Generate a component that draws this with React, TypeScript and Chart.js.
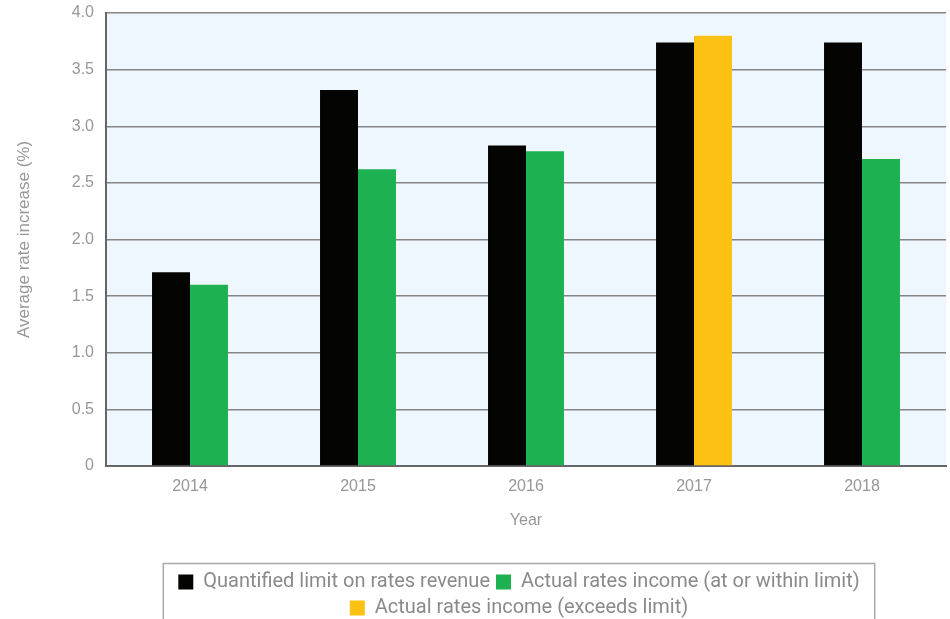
import React, { useEffect, useRef } from "react";
import { Chart, registerables } from "chart.js";

Chart.register(...registerables);

const years = ["2014", "2015", "2016", "2017", "2018"];
const quantifiedLimit = [1.71, 3.32, 2.83, 3.74, 3.74];
const actualWithin = [1.6, 2.62, 2.78, null, 2.71];
const actualExceeds = [null, null, null, 3.8, null];
const yTickLabels = ["0", "0.5", "1.0", "1.5", "2.0", "2.5", "3.0", "3.5", "4.0"];

const seriesNames = [
  "Quantified limit on rates revenue",
  "Actual rates income (at or within limit)",
  "Actual rates income (exceeds limit)",
];

const GREY = "#979797";
const FONT = "'Liberation Sans', Arial, sans-serif";
const LEGEND_SHIFT = -7;

const bgPlugin = {
  id: "plotBg",
  beforeDraw(chart: any) {
    const { ctx, chartArea } = chart;
    ctx.save();
    ctx.fillStyle = "#eff7fe";
    ctx.fillRect(chartArea.left, chartArea.top, chartArea.right - chartArea.left, chartArea.bottom - chartArea.top);
    ctx.restore();
  },
};

const legendShiftPlugin = {
  id: "legendShift",
  afterLayout(chart: any) {
    const lg = chart.legend;
    if (!lg) return;
    lg.left += LEGEND_SHIFT;
    lg.right += LEGEND_SHIFT;
  },
};

const legendBoxPlugin = {
  id: "legendBox",
  afterDraw(chart: any) {
    const lg = chart.legend;
    if (!lg || !lg.legendHitBoxes || !lg.legendHitBoxes.length) return;
    let minX = Infinity, maxX = -Infinity;
    for (const hb of lg.legendHitBoxes) {
      minX = Math.min(minX, hb.left);
      maxX = Math.max(maxX, hb.left + hb.width);
    }
    const { ctx } = chart;
    ctx.save();
    ctx.strokeStyle = "#a9a9a9";
    ctx.lineWidth = 1.5;
    ctx.strokeRect(minX - 15, lg.top - 2.5, maxX - minX + 30, lg.height + 20);
    ctx.restore();
  },
};

export default function App() {
  const ref = useRef<HTMLCanvasElement>(null);
  useEffect(() => {
    if (!ref.current) return;
    const chart = new Chart(ref.current, {
      type: "bar",
      data: {
        labels: years,
        datasets: [
          { label: seriesNames[0], data: quantifiedLimit, backgroundColor: "#040503" },
          { label: seriesNames[1], data: actualWithin as any, backgroundColor: "#1db151" },
          { label: seriesNames[2], data: actualExceeds as any, backgroundColor: "#fdc113" },
        ],
      },
      options: {
        animation: false,
        responsive: true,
        maintainAspectRatio: false,
        skipNull: true,
        categoryPercentage: 0.452,
        barPercentage: 1,
        layout: { padding: { left: 0, right: 4, top: 13, bottom: 0 } },
        plugins: {
          tooltip: { enabled: false },
          legend: {
            position: "bottom",
            fullSize: false,
            labels: {
              boxWidth: 15,
              boxHeight: 15,
              padding: 6,
              color: "#8a8a8a",
              font: { family: "'Liberation Sans Narrow', 'Roboto', sans-serif", size: 20 },
            },
          },
        },
        scales: {
          x: {
            grid: { display: false, drawTicks: false },
            border: { display: true, color: "#666", width: 2 },
            ticks: { color: GREY, padding: 11, font: { family: FONT, size: 16 } },
            title: {
              display: true,
              text: "Year",
              color: GREY,
              font: { family: FONT, size: 16 },
              padding: { top: 4, bottom: 36 },
            },
            afterFit(scale: any) {
              scale.height = 100;
            },
          },
          y: {
            min: 0,
            max: 4,
            grid: { color: "#858585", lineWidth: 1.5, drawTicks: false },
            border: { display: true, color: "#666", width: 2 },
            ticks: {
              stepSize: 0.5,
              color: GREY,
              padding: 12,
              font: { family: FONT, size: 16 },
              callback: (_v: any, i: number) => yTickLabels[i],
            },
            title: {
              display: true,
              text: "Average rate increase (%)",
              color: GREY,
              font: { family: FONT, size: 17 },
              padding: { top: 14, bottom: 4 },
            },
            afterFit(scale: any) {
              scale.width = 106;
              scale.paddingTop = 9;
              scale.paddingBottom = 9;
            },
          },
        },
      } as any,
      plugins: [bgPlugin, legendShiftPlugin, legendBoxPlugin],
    });
    return () => chart.destroy();
  }, []);

  return (
    <div style={{ position: "absolute", left: 0, top: 0, width: 950, height: 619, overflow: "hidden" }}>
      <div style={{ position: "relative", width: 950, height: 628 }}>
        <canvas ref={ref} />
      </div>
    </div>
  );
}
